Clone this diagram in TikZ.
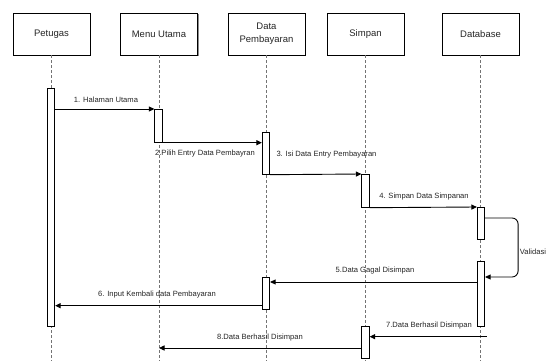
\documentclass[tikz,border=0pt]{standalone}
\usepackage{fontspec}
\setmainfont{Liberation Sans}
\usetikzlibrary{arrows.meta,calc,shadows}
\begin{document}
\begin{tikzpicture}[x=1pt,y=-1pt,
  head/.style={draw=black, fill=white, line width=0.8pt, minimum width=77pt, minimum height=42pt,
    inner sep=0pt, align=center, font=\fontsize{9.5}{13}\selectfont, text=black!85,
    drop shadow={shadow xshift=1pt, shadow yshift=-1pt, fill=black!45, opacity=1}},
  act/.style={draw=black, fill=white, line width=0.7pt, minimum width=7.5pt, inner sep=0pt, anchor=north},
  life/.style={draw=black!55, dashed, dash pattern=on 3pt off 2pt, line width=0.8pt},
  msg/.style={draw=black, line width=0.9pt, -{Triangle[width=5pt,length=5.5pt]}},
  lbl/.style={font=\fontsize{7.6}{9}\selectfont, text=black!85, inner sep=0pt}
]
\useasboundingbox (0,0) rectangle (558,361);
\fill[white] (0,0) rectangle (558,361);

% heads
\node[head] (hp) at (51.5,34) {Petugas};
\node[head] (hm) at (159,34) {Menu Utama};
\node[head] (hd) at (266.5,34) {Data\\Pembayaran};
\node[head] (hs) at (365.5,34) {Simpan};
\node[head] (hb) at (480.5,34) {Database};

% lifeline ends
\coordinate (ep) at (hp.south |- 0,361);
\coordinate (em) at (hm.south |- 0,361);
\coordinate (ed) at (hd.south |- 0,361);
\coordinate (es) at (hs.south |- 0,361);
\coordinate (eb) at (hb.south |- 0,361);
\draw[life] (hp.south) -- (ep);
\draw[life] (hm.south) -- (em);
\draw[life] (hd.south) -- (ed);
\draw[life] (hs.south) -- (es);
\draw[life] (hb.south) -- (eb);

% activations
\node[act, minimum height=238pt] (pa) at (51,88) {};
\node[act, minimum height=33pt] (ma) at (158.5,109) {};
\node[act, minimum height=42pt] (dp1) at (266,132) {};
\node[act, minimum height=33pt] (sa1) at (365.5,174) {};
\node[act, minimum height=32pt] (db1) at (481,207) {};
\node[act, minimum height=65pt] (db2) at (481,261) {};
\node[act, minimum height=32pt] (dp2) at (266,277) {};
\node[act, minimum height=32pt] (sa2) at (365.5,326) {};

% messages
\draw[msg] (pa.east |- ma.north) -- (ma.north west);
\draw[msg] (ma.south west) -- (dp1.west |- ma.south);
\draw[msg] (dp1.south east) -- (sa1.north west);
\draw[msg] (sa1.south east) -- (db1.north west);
\draw[msg, rounded corners=6pt] ($(db1.north east)+(0,11)$) -- ($(db1.north east)+(33,11)$)
   -- ($(db2.north east)+(33,16)$) -- ($(db2.north east)+(0,16)$);
\coordinate (m5) at ($(db2.north west)+(0,21)$);
\draw[msg] (m5) -- (dp2.east |- m5);
\coordinate (m6) at ($(dp2.south west)+(0,-4)$);
\draw[msg] (m6) -- (pa.east |- m6);
\coordinate (m7) at ($(db2.south east)+(1.5,10)$);
\draw[msg] (m7) -- (sa2.east |- m7);
\coordinate (m8) at ($(sa2.north west)+(0,22)$);
\draw[msg] (m8) -- (hm.south |- m8);

% labels
\node[lbl] (l1) at (106,100) {1. Halaman Utama};
\node[lbl] (l2) at (205,154) {2.Pilih Entry Data Pembayran};
\node[lbl] (l3) at (326.5,154.5) {3. Isi Data Entry Pembayaran};
\node[lbl] (l4) at (424,197) {4. Simpan Data Simpanan};
\node[lbl] (lv) at (533,252) {Validasi};
\node[lbl] (l5) at (375,271) {5.Data Gagal Disimpan};
\node[lbl] (l6) at (157,295) {6. Input Kembali data Pembayaran};
\node[lbl] (l7) at (429,326) {7.Data Berhasil Disimpan};
\node[lbl] (l8) at (260,338) {8.Data Berhasil Disimpan};
\end{tikzpicture}
\end{document}
